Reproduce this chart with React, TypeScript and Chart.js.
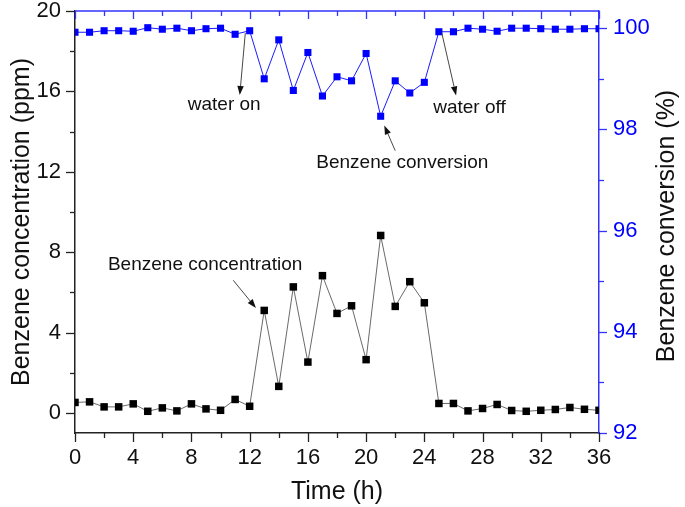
import React, { useEffect, useRef } from 'react';
import { Chart, registerables } from 'chart.js';

Chart.register(...registerables);

const hours = [0,1,2,3,4,5,6,7,8,9,10,11,12,13,14,15,16,17,18,19,20,21,22,23,24,25,26,27,28,29,30,31,32,33,34,35,36];
const benzeneConcentration = [0.52,0.55,0.3,0.3,0.45,0.08,0.25,0.1,0.45,0.2,0.13,0.67,0.33,5.1,1.32,6.27,2.53,6.83,4.95,5.33,2.65,8.83,5.3,6.53,5.48,0.47,0.47,0.1,0.22,0.42,0.12,0.08,0.13,0.17,0.27,0.18,0.13];
const benzeneConversion = [99.92,99.92,99.95,99.95,99.94,100.01,99.98,100.0,99.95,99.99,100.0,99.88,99.95,99.0,99.77,98.77,99.52,98.66,99.04,98.96,99.5,98.26,98.96,98.72,98.93,99.93,99.93,100.0,99.98,99.94,100.0,100.0,99.99,99.98,99.98,99.99,99.99];

const xTickValues = [0,4,8,12,16,20,24,28,32,36];
const xMinorValues = [2,6,10,14,18,22,26,30,34];
const leftTickValues = [0,4,8,12,16,20];
const leftMinorValues = [2,6,10,14,18];
const rightTickValues = [92,94,96,98,100];
const rightMinorValues = [93,95,97,99];

const rightTitle = 'Benzene conversion (%)';

// annotation anchors in (hour, ppm) units
const notes = [
  { text: 'water on', tx: 10.25, ty: 15.35, x1: 11.7, y1: 18.9, x2: 11.32, y2: 15.82 },
  { text: 'water off', tx: 27.1, ty: 15.2, x1: 25.2, y1: 18.9, x2: 26.18, y2: 15.8 },
  { text: 'Benzene conversion', tx: 22.49, ty: 12.45, x1: 22.0, y1: 13.05, x2: 21.25, y2: 14.3 },
  { text: 'Benzene concentration', tx: 8.94, ty: 7.35, x1: 10.87, y1: 6.6, x2: 12.43, y2: 5.22 },
];

const FONT = "'Liberation Sans', Arial, sans-serif";
const DARK = '#222222';
const BLUE = '#0000ff';
const AXIS_BLUE = '#3333ff';

const zeroPad = (s: any) => {
  s.paddingTop = 0;
  s.paddingBottom = 0;
  s.paddingLeft = 0;
  s.paddingRight = 0;
};

export default function App() {
  const ref = useRef<HTMLCanvasElement | null>(null);

  useEffect(() => {
    if (!ref.current) return;

    const extras = {
      id: 'extras',
      afterDraw(chart: any) {
        const ctx = chart.ctx;
        const { left, right, top, bottom } = chart.chartArea;
        const xs = chart.scales.x;
        const yl = chart.scales.y;
        const yr = chart.scales.y2;
        const px = (v: number) => Math.round(xs.getPixelForValue(v)) + 0.5;
        const pyl = (v: number) => Math.round(yl.getPixelForValue(v)) + 0.5;
        const pyr = (v: number) => Math.round(yr.getPixelForValue(v)) + 0.5;
        const seg = (a: number, b: number, c: number, d: number) => {
          ctx.beginPath(); ctx.moveTo(a, b); ctx.lineTo(c, d); ctx.stroke();
        };
        ctx.save();
        ctx.strokeStyle = AXIS_BLUE;
        ctx.lineWidth = 1.5;
        seg(left, top, right, top);
        ctx.lineWidth = 1.3;
        xTickValues.forEach((v) => seg(px(v), top, px(v), top + 8));
        xMinorValues.forEach((v) => seg(px(v), top, px(v), top + 5));
        rightTickValues.forEach((v) => seg(right, pyr(v), right + 8, pyr(v)));
        rightMinorValues.forEach((v) => seg(right, pyr(v), right + 5, pyr(v)));
        ctx.strokeStyle = DARK;
        leftTickValues.forEach((v) => seg(left, pyl(v), left - 9, pyl(v)));
        leftMinorValues.forEach((v) => seg(left, pyl(v), left - 5, pyl(v)));
        xTickValues.forEach((v) => seg(px(v), bottom, px(v), bottom + 9));
        xMinorValues.forEach((v) => seg(px(v), bottom, px(v), bottom + 5));

        ctx.save();
        ctx.translate(667, (top + bottom) / 2 + 4);
        ctx.rotate(-Math.PI / 2);
        ctx.fillStyle = '#111';
        ctx.font = `25px ${FONT}`;
        ctx.textAlign = 'center';
        ctx.textBaseline = 'middle';
        ctx.fillText(rightTitle, 0, 0);
        ctx.restore();

        ctx.fillStyle = '#111';
        ctx.strokeStyle = '#333';
        ctx.font = `19px ${FONT}`;
        ctx.textAlign = 'center';
        ctx.textBaseline = 'middle';
        notes.forEach((n) => {
          ctx.fillText(n.text, xs.getPixelForValue(n.tx), yl.getPixelForValue(n.ty));
          const ax = xs.getPixelForValue(n.x1);
          const ay = yl.getPixelForValue(n.y1);
          const bx = xs.getPixelForValue(n.x2);
          const by = yl.getPixelForValue(n.y2);
          const ang = Math.atan2(by - ay, bx - ax);
          const hl = 9, hw = 3.2;
          const baseX = bx - hl * Math.cos(ang);
          const baseY = by - hl * Math.sin(ang);
          ctx.lineWidth = 0.9;
          seg(ax, ay, baseX, baseY);
          ctx.beginPath();
          ctx.moveTo(bx, by);
          ctx.lineTo(baseX + hw * Math.sin(ang), baseY - hw * Math.cos(ang));
          ctx.lineTo(baseX - hw * Math.sin(ang), baseY + hw * Math.cos(ang));
          ctx.closePath();
          ctx.fill();
        });
        ctx.restore();
      },
    };

    const chart = new Chart(ref.current, {
      type: 'line',
      data: {
        datasets: [
          {
            label: 'Benzene concentration',
            data: hours.map((h, i) => ({ x: h, y: benzeneConcentration[i] })),
            yAxisID: 'y',
            borderColor: '#444444',
            borderWidth: 0.8,
            backgroundColor: '#000000',
            pointBackgroundColor: '#000000',
            pointBorderColor: '#000000',
            pointStyle: 'rect',
            pointRadius: 5.3,
            pointBorderWidth: 0,
            tension: 0,
          },
          {
            label: 'Benzene conversion',
            data: hours.map((h, i) => ({ x: h, y: benzeneConversion[i] })),
            yAxisID: 'y2',
            borderColor: BLUE,
            borderWidth: 0.9,
            backgroundColor: BLUE,
            pointBackgroundColor: BLUE,
            pointBorderColor: BLUE,
            pointStyle: 'rect',
            pointRadius: 5,
            pointBorderWidth: 0,
            tension: 0,
          },
        ],
      },
      options: {
        responsive: false,
        animation: false,
        events: [],
        layout: { padding: { top: 11, left: 0, right: 0, bottom: 0 } },
        plugins: { legend: { display: false }, tooltip: { enabled: false } },
        scales: {
          x: {
            type: 'linear',
            position: 'bottom',
            min: 0,
            max: 36,
            afterBuildTicks: (s: any) => { s.ticks = xTickValues.map((v) => ({ value: v })); },
            afterFit: (s: any) => { s.height = 74; zeroPad(s); },
            ticks: { color: '#111', font: { family: FONT, size: 22 }, padding: 4, maxRotation: 0, autoSkip: false },
            grid: { display: false, drawOnChartArea: false },
            border: { display: true, color: DARK, width: 1.5 },
            title: { display: true, text: 'Time (h)', color: '#111', font: { family: FONT, size: 25 }, padding: { top: 0, bottom: 0 } },
          },
          y: {
            type: 'linear',
            position: 'left',
            min: -1,
            max: 20,
            afterBuildTicks: (s: any) => { s.ticks = leftTickValues.map((v) => ({ value: v })); },
            afterFit: (s: any) => { s.width = 75; zeroPad(s); },
            ticks: { color: '#111', font: { family: FONT, size: 22 }, padding: 6, autoSkip: false },
            grid: { display: false, drawOnChartArea: false },
            border: { display: true, color: DARK, width: 1.5 },
            title: { display: true, text: 'Benzene concentration (ppm)', color: '#111', font: { family: FONT, size: 25 }, padding: { top: 7, bottom: 7 } },
          },
          y2: {
            type: 'linear',
            position: 'right',
            min: 92,
            max: 100.34,
            afterBuildTicks: (s: any) => { s.ticks = rightTickValues.map((v) => ({ value: v })); },
            afterFit: (s: any) => { s.width = 86; zeroPad(s); },
            ticks: { color: BLUE, font: { family: FONT, size: 22 }, padding: 6, autoSkip: false },
            grid: { display: false, drawOnChartArea: false },
            border: { display: true, color: AXIS_BLUE, width: 1.5 },
            title: { display: false },
          },
        },
      },
      plugins: [extras],
    } as any);

    return () => chart.destroy();
  }, []);

  return (
    <div style={{ position: 'absolute', left: 0, top: 0, width: 685, height: 507, background: '#fff' }}>
      <canvas ref={ref} width={685} height={507} />
    </div>
  );
}
